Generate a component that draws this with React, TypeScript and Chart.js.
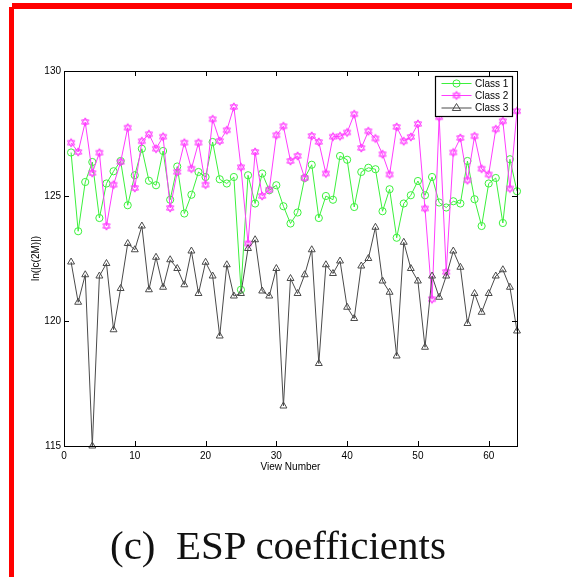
import React, { useEffect, useRef } from "react";
import { Chart, registerables } from "chart.js";

Chart.register(...registerables);

// ---- data ----
const viewNumbers: number[] = Array.from({ length: 64 }, (_, i) => i + 1);

const class1: number[] = [
  126.74, 123.59, 125.56, 126.36, 124.12, 125.5, 125.99, 126.4, 124.63, 125.83,
  126.89, 125.61, 125.43, 126.8, 124.85, 126.18, 124.3, 125.05, 125.96, 125.76,
  127.16, 125.67, 125.5, 125.76, 121.25, 125.83, 124.7, 125.9, 125.23, 125.43,
  124.59, 123.9, 124.34, 125.72, 126.25, 124.12, 125.0, 124.85, 126.6, 126.45,
  124.56, 125.96, 126.13, 126.07, 124.39, 125.27, 123.33, 124.7, 125.03, 125.6,
  125.03, 125.76, 124.74, 124.54, 124.79, 124.7, 126.4, 124.87, 123.8, 125.5,
  125.72, 123.92, 126.47, 125.19,
];

const class2: number[] = [
  127.13, 126.76, 127.96, 125.92, 126.73, 123.8, 125.45, 126.36, 127.73, 125.32,
  127.19, 127.47, 126.89, 127.37, 124.52, 125.96, 127.13, 126.09, 127.13, 125.45,
  128.07, 127.2, 127.63, 128.56, 126.15, 123.1, 126.76, 125.0, 125.25, 127.43,
  127.79, 126.4, 126.6, 125.72, 127.4, 127.16, 125.9, 127.37, 127.39, 127.54,
  128.27, 126.92, 127.59, 127.3, 126.67, 125.86, 127.76, 127.19, 127.36, 127.88,
  124.5, 120.87, 128.15, 121.96, 126.74, 127.32, 125.63, 127.39, 126.09, 125.86,
  127.67, 127.99, 125.3, 128.39,
];

const class3: number[] = [
  122.36, 120.75, 121.85, 115.0, 121.8, 122.3, 119.65, 121.3, 123.1, 122.85,
  123.8, 121.25, 122.55, 121.35, 122.45, 122.1, 121.45, 122.8, 121.1, 122.35,
  121.8, 119.4, 122.25, 121.0, 121.1, 122.9, 123.25, 121.2, 121.0, 122.1,
  116.6, 121.7, 121.1, 121.85, 122.85, 118.3, 122.25, 121.9, 122.4, 120.55,
  120.1, 122.2, 122.5, 123.75, 121.6, 121.15, 118.6, 123.15, 122.1, 121.6,
  118.95, 121.8, 120.95, 121.8, 122.8, 122.15, 119.9, 121.1, 120.35, 121.1,
  121.8, 122.05, 121.35, 119.6,
];

const seriesNames: string[] = ["Class 1", "Class 2", "Class 3"];
const xTickValues: number[] = [0, 10, 20, 30, 40, 50, 60];
const yTickValues: number[] = [115, 120, 125, 130];
const xTitle = "View Number";
const yTitle = "ln(|c(2M)|)";
const caption = "(c)\u00a0\u00a0ESP coefficients";

// ---- styles ----
const GREEN = "#3cf03c";
const MAGENTA = "#ff3cff";
const DARK = "#4a4a4a";
const SANS = "'Liberation Sans', Arial, Helvetica, sans-serif";

function makeHexagram(color: string, r: number): HTMLCanvasElement {
  const size = Math.ceil(r * 2 + 3);
  const c = document.createElement("canvas");
  c.width = size;
  c.height = size;
  const g = c.getContext("2d")!;
  const cx = size / 2;
  const cy = size / 2;
  g.strokeStyle = color;
  g.lineWidth = 1;
  const tri = (start: number) => {
    g.beginPath();
    for (let k = 0; k < 3; k++) {
      const a = ((start + k * 120) * Math.PI) / 180;
      const px = cx + r * Math.cos(a);
      const py = cy + r * Math.sin(a);
      if (k === 0) g.moveTo(px, py);
      else g.lineTo(px, py);
    }
    g.closePath();
    g.stroke();
  };
  tri(-90);
  tri(90);
  return c;
}

export default function App() {
  const ref = useRef<HTMLCanvasElement | null>(null);

  useEffect(() => {
    if (!ref.current) return;
    const hex = makeHexagram(MAGENTA, 4.2);

    const toPts = (vals: number[]) => vals.map((v, i) => ({ x: viewNumbers[i], y: v }));

    const framePlugin = {
      id: "matlabFrame",
      afterDatasetsDraw(chart: any) {
        const { ctx, chartArea: a, scales } = chart;
        const xs = scales.x;
        const ys = scales.y;
        ctx.save();
        // box
        ctx.strokeStyle = "#000";
        ctx.lineWidth = 1;
        ctx.strokeRect(Math.round(a.left) + 0.5, Math.round(a.top) + 0.5, Math.round(a.right - a.left), Math.round(a.bottom - a.top));
        // inward ticks
        const tl = 5;
        ctx.beginPath();
        xTickValues.forEach((v) => {
          const px = Math.round(xs.getPixelForValue(v)) + 0.5;
          ctx.moveTo(px, a.bottom);
          ctx.lineTo(px, a.bottom - tl);
          ctx.moveTo(px, a.top);
          ctx.lineTo(px, a.top + tl);
        });
        yTickValues.forEach((v) => {
          const py = Math.round(ys.getPixelForValue(v)) + 0.5;
          ctx.moveTo(a.left, py);
          ctx.lineTo(a.left + tl, py);
          ctx.moveTo(a.right, py);
          ctx.lineTo(a.right - tl, py);
        });
        ctx.stroke();

        // axis titles
        ctx.fillStyle = "#000";
        ctx.font = `10px ${SANS}`;
        ctx.textAlign = "center";
        ctx.textBaseline = "middle";
        ctx.fillText(xTitle, (a.left + a.right) / 2, a.bottom + 21);
        ctx.save();
        ctx.translate(a.left - 28, (a.top + a.bottom) / 2);
        ctx.rotate(-Math.PI / 2);
        ctx.fillText(yTitle, 0, 0);
        ctx.restore();

        // legend
        const lx = 435.5;
        const ly = 76.5;
        const lw = 77;
        const lh = 40;
        ctx.fillStyle = "#fff";
        ctx.fillRect(lx, ly, lw, lh);
        ctx.strokeStyle = "#000";
        ctx.lineWidth = 1.2;
        ctx.strokeRect(lx, ly, lw, lh);
        const ds = chart.data.datasets;
        const rows = [83.5, 95.5, 108];
        ds.forEach((d: any, k: number) => {
          const y = rows[k];
          ctx.strokeStyle = d.borderColor;
          ctx.lineWidth = 1;
          ctx.beginPath();
          ctx.moveTo(441.5, y);
          ctx.lineTo(471.5, y);
          ctx.stroke();
          const mx = 456.5;
          if (k === 0) {
            ctx.beginPath();
            ctx.arc(mx, y, 3.6, 0, Math.PI * 2);
            ctx.stroke();
          } else if (k === 1) {
            ctx.drawImage(hex, mx - hex.width / 2, y - hex.height / 2);
          } else {
            ctx.beginPath();
            ctx.moveTo(mx, y - 4.5);
            ctx.lineTo(mx + 4.2, y + 2.5);
            ctx.lineTo(mx - 4.2, y + 2.5);
            ctx.closePath();
            ctx.stroke();
          }
          ctx.fillStyle = "#000";
          ctx.font = `10px ${SANS}`;
          ctx.textAlign = "left";
          ctx.textBaseline = "middle";
          ctx.fillText(d.label, 475, y + 0.5);
        });
        ctx.restore();
      },
    };

    const chart = new Chart(ref.current, {
      type: "scatter",
      data: {
        datasets: [
          {
            label: seriesNames[0],
            data: toPts(class1),
            showLine: true,
            borderColor: GREEN,
            backgroundColor: "rgba(0,0,0,0)",
            borderWidth: 1,
            pointStyle: "circle",
            pointRadius: 3.6,
            pointBorderWidth: 1,
            pointBorderColor: GREEN,
            pointBackgroundColor: "rgba(0,0,0,0)",
            clip: 10,
            order: 2,
          },
          {
            label: seriesNames[1],
            data: toPts(class2),
            showLine: true,
            borderColor: MAGENTA,
            backgroundColor: "rgba(0,0,0,0)",
            borderWidth: 1,
            pointStyle: hex,
            pointRadius: 4,
            clip: 10,
            order: 1,
          },
          {
            label: seriesNames[2],
            data: toPts(class3),
            showLine: true,
            borderColor: DARK,
            backgroundColor: "rgba(0,0,0,0)",
            borderWidth: 1,
            pointStyle: "triangle",
            pointRadius: 4,
            pointBorderWidth: 1,
            pointBorderColor: DARK,
            pointBackgroundColor: "rgba(0,0,0,0)",
            clip: 10,
            order: 0,
          },
        ] as any,
      },
      options: {
        animation: false,
        responsive: false,
        maintainAspectRatio: false,
        events: [],
        layout: { padding: { left: 0, top: 71, right: 55, bottom: 111 } },
        plugins: {
          legend: { display: false },
          tooltip: { enabled: false },
          title: { display: false },
        },
        scales: {
          x: {
            type: "linear",
            min: 0,
            max: 64,
            grid: { display: false, drawTicks: false },
            border: { display: false },
            ticks: {
              color: "#000",
              font: { size: 10, family: SANS },
              padding: 4,
              maxRotation: 0,
              autoSkip: false,
            },
            afterBuildTicks: (s: any) => {
              s.ticks = xTickValues.map((v) => ({ value: v }));
            },
            afterFit: (s: any) => {
              s.height = 20;
            },
          },
          y: {
            type: "linear",
            min: 115,
            max: 130,
            grid: { display: false, drawTicks: false },
            border: { display: false },
            ticks: {
              color: "#000",
              font: { size: 10, family: SANS },
              padding: 3,
              autoSkip: false,
            },
            afterBuildTicks: (s: any) => {
              s.ticks = yTickValues.map((v) => ({ value: v }));
            },
            afterFit: (s: any) => {
              s.width = 64;
            },
          },
        },
      } as any,
      plugins: [framePlugin],
    });
    return () => chart.destroy();
  }, []);

  return (
    <div
      style={{
        position: "absolute",
        left: 0,
        top: 0,
        width: 572,
        height: 577,
        background: "#fff",
        overflow: "hidden",
      }}
    >
      <canvas ref={ref} width={572} height={577} style={{ position: "absolute", left: 0, top: 0, width: 572, height: 577 }} />
      <div style={{ position: "absolute", left: 12, top: 3, width: 560, height: 6, background: "#ff0000" }} />
      <div style={{ position: "absolute", left: 9, top: 7, width: 5, height: 570, background: "#ff0000" }} />
      <div
        style={{
          position: "absolute",
          left: 110,
          top: 525,
          whiteSpace: "nowrap",
          fontFamily: "'Liberation Serif', 'Times New Roman', serif",
          fontSize: 41,
          lineHeight: "41px",
          color: "#111",
        }}
      >
        {caption}
      </div>
    </div>
  );
}
